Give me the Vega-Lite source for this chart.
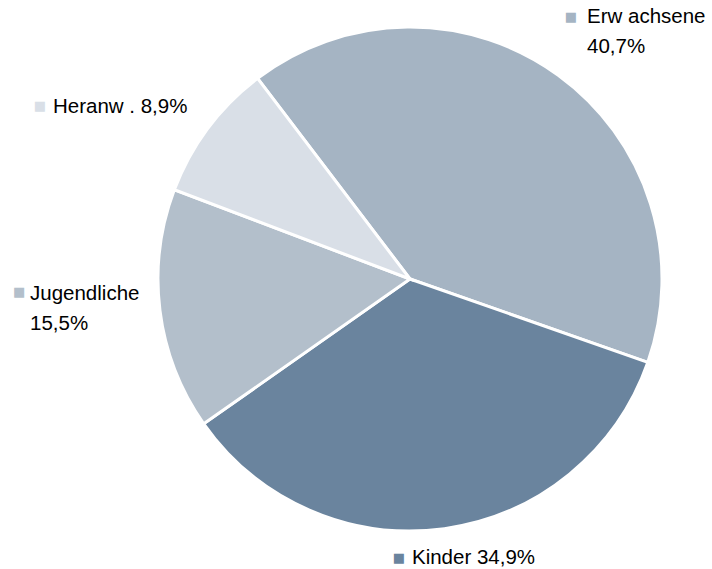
{
  "$schema": "https://vega.github.io/schema/vega-lite/v6.json",
  "width": 504,
  "height": 504,
  "autosize": {"type": "none"},
  "padding": {"left": 158, "top": 27, "right": 50, "bottom": 38},
  "background": "white",
  "config": {"view": {"stroke": null}},
  "data": {
    "values": [
      {"cat": "Erwachsene", "value": 40.7, "label": "Erw achsene\n40,7%"},
      {"cat": "Kinder", "value": 34.9, "label": "Kinder 34,9%"},
      {"cat": "Jugendliche", "value": 15.5, "label": "Jugendliche\n15,5%"},
      {"cat": "Heranw", "value": 8.9, "label": "Heranw . 8,9%"}
    ]
  },
  "encoding": {
    "theta": {"field": "value", "type": "quantitative", "stack": true, "scale": {"range": [1.9077, 8.1909]}},
    "order": {"field": "cat", "type": "ordinal", "sort": "descending"},
    "detail": {"field": "cat", "type": "nominal"},
    "color": {
      "field": "cat",
      "type": "nominal",
      "legend": null,
      "scale": {
        "domain": ["Erwachsene", "Kinder", "Jugendliche", "Heranw"],
        "range": ["#a5b4c3", "#6a849e", "#b3bfcb", "#d9dfe7"]
      }
    }
  },
  "layer": [
    {"mark": {"type": "arc", "stroke": "white", "strokeWidth": 3}},
    {
      "mark": {
        "type": "text",
        "radius": 285,
        "text": "■",
        "font": "DejaVu Sans",
        "fontSize": 13,
        "align": "center",
        "baseline": "middle",
        "dx": {"expr": "datum.cat === 'Erwachsene' ? -6.7 : datum.cat === 'Kinder' ? -50.1 : datum.cat === 'Jugendliche' ? -108.2 : -141.7"},
        "dy": {"expr": "datum.cat === 'Erwachsene' ? -31.5 : datum.cat === 'Kinder' ? -3.3 : datum.cat === 'Jugendliche' ? -22.5 : -2.3"}
      }
    },
    {
      "mark": {
        "type": "text",
        "radius": 285,
        "font": "Liberation Sans",
        "fontSize": 20.5,
        "align": "left",
        "baseline": "alphabetic",
        "lineBreak": "\n",
        "lineHeight": 30,
        "dx": {"expr": "datum.cat === 'Erwachsene' ? 9.3 : datum.cat === 'Kinder' ? -37.1 : datum.cat === 'Jugendliche' ? -97.2 : -128.7"},
        "dy": {"expr": "datum.cat === 'Erwachsene' ? -25.5 : datum.cat === 'Kinder' ? 2.7 : datum.cat === 'Jugendliche' ? -14.5 : 4.7"}
      },
      "encoding": {
        "text": {"field": "label", "type": "nominal"},
        "color": {"value": "#000000"}
      }
    }
  ]
}
